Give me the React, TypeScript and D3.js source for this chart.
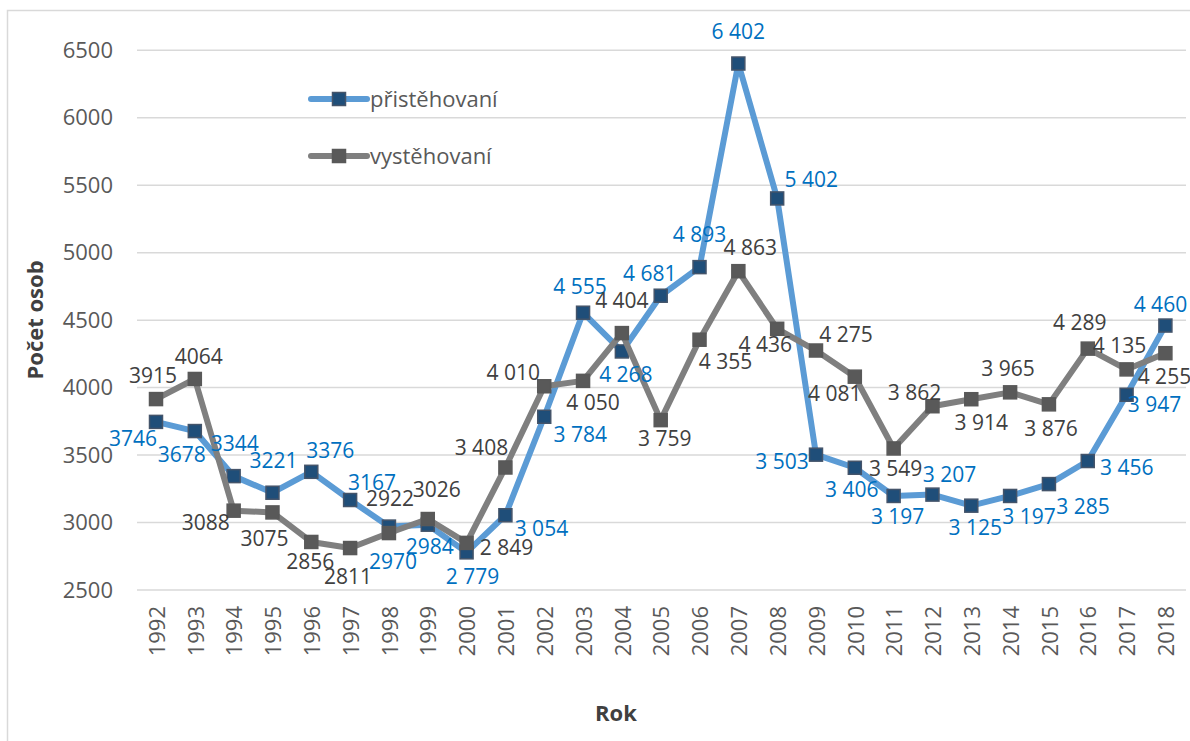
import React from "react";
import * as d3 from "d3";

const years = [1992,1993,1994,1995,1996,1997,1998,1999,2000,2001,2002,2003,2004,2005,2006,2007,2008,2009,2010,2011,2012,2013,2014,2015,2016,2017,2018];
const prist = [3746,3678,3344,3221,3376,3167,2970,2984,2779,3054,3784,4555,4268,4681,4893,6402,5402,3503,3406,3197,3207,3125,3197,3285,3456,3947,4460];
const vyst = [3915,4064,3088,3075,2856,2811,2922,3026,2849,3408,4010,4050,4404,3759,4355,4863,4436,4275,4081,3549,3862,3914,3965,3876,4289,4135,4255];
const yTicks = [2500,3000,3500,4000,4500,5000,5500,6000,6500];
const seriesNames = ["přistěhovaní", "vystěhovaní"];

// label placement offsets (layout only)
const pristOff: [number, number][] = [[-23,17],[-13,24],[1,-32],[1,-32],[19,-21],[22,-17],[4,35],[2,22],[6,24],[36,13],[36,18],[-3,-26],[4,23],[-11,-22],[0,-32],[0,-32],[34,-19],[-34,7],[-3,22],[4,21],[17,-20],[4,22],[19,21],[34,23],[39,7],[28,10],[-5,-21]];
const vystOff: [number, number][] = [[-3,-23],[4,-22],[-28,12],[-8,26],[-1,20],[-2,29],[1,-34],[9,-29],[40,5],[-24,-20],[-31,-14],[10,22],[0,-32],[4,19],[26,22],[12,-24],[-12,16],[30,-16],[-20,17],[2,20],[-18,-14],[10,23],[-2,-24],[2,24],[-8,-26],[-7,-24],[-1,23]];

const W = 1190, H = 741;
const FONT = "'Open Sans', 'Noto Sans', sans-serif";

function fmt(v: number, year: number) {
  if (year < 2000) return String(v);
  return d3.format(",")(v).replace(/,/g, " ");
}

export default function App() {
  const x = d3.scalePoint<number>().domain(years).range([156, 1165.4]);
  const y = d3.scaleLinear().domain([2500, 6500]).range([590, 50.3]);
  const line = d3.line<number>().x((_, i) => x(years[i])!).y(d => y(d));

  const series = [
    { vals: prist, off: pristOff, line: "#5b9bd5", mFill: "#1f4e79", mStroke: "#44546a", label: "#0070c0" },
    { vals: vyst, off: vystOff, line: "#7f7f7f", mFill: "#595959", mStroke: "#595959", label: "#404040" },
  ];
  const ms = 13;

  return (
    <svg width={W} height={H} style={{ position: "absolute", left: 0, top: 0, display: "block" }} fontFamily={FONT}>
      <rect x={0} y={0} width={W} height={H} fill="#fff" />
      <rect x={7.5} y={10.5} width={1190} height={760} fill="#fff" stroke="#d9d9d9" strokeWidth={1.5} />
      {yTicks.map(t => (
        <g key={t}>
          <line x1={137} x2={1186} y1={y(t)} y2={y(t)} stroke="#d9d9d9" strokeWidth={1.5} />
          <text x={113} y={y(t)} dy="0.35em" textAnchor="end" fontSize={22} fill="#595959">{t}</text>
        </g>
      ))}
      {years.map(yr => (
        <text key={yr} transform={`translate(${x(yr)! + 1},606) rotate(-90)`} dy="0.35em" textAnchor="end" fontSize={22} fill="#595959">{yr}</text>
      ))}
      <text transform="translate(35,320) rotate(-90)" dy="0.35em" textAnchor="middle" fontSize={22} fontWeight="bold" fill="#404040">Počet osob</text>
      <text x={616} y={713} dy="0.35em" textAnchor="middle" fontSize={22} fontWeight="bold" fill="#404040">Rok</text>

      {series.map((s, si) => (
        <g key={si}>
          <path d={line(s.vals)!} fill="none" stroke={s.line} strokeWidth={6} strokeLinejoin="round" strokeLinecap="round" />
          {s.vals.map((v, i) => (
            <rect key={i} x={x(years[i])! - ms / 2} y={y(v) - ms / 2} width={ms} height={ms} fill={s.mFill} stroke={s.mStroke} strokeWidth={1.5} />
          ))}
        </g>
      ))}
      {series.map((s, si) => (
        <g key={"l" + si}>
          {s.vals.map((v, i) => (
            <text key={i} x={x(years[i])! + s.off[i][0]} y={y(v) + s.off[i][1]} dy="0.35em" textAnchor="middle" fontSize={21} fill={s.label}>{fmt(v, years[i])}</text>
          ))}
        </g>
      ))}

      {series.map((s, si) => {
        const ly = 99 + si * 57;
        return (
          <g key={"lg" + si}>
            <line x1={311} x2={367} y1={ly} y2={ly} stroke={s.line} strokeWidth={6} strokeLinecap="round" />
            <rect x={339 - ms / 2} y={ly - ms / 2} width={ms} height={ms} fill={s.mFill} stroke={s.mStroke} strokeWidth={1.5} />
            <text x={370} y={ly} dy="0.35em" fontSize={22} fill="#595959">{seriesNames[si]}</text>
          </g>
        );
      })}
    </svg>
  );
}
